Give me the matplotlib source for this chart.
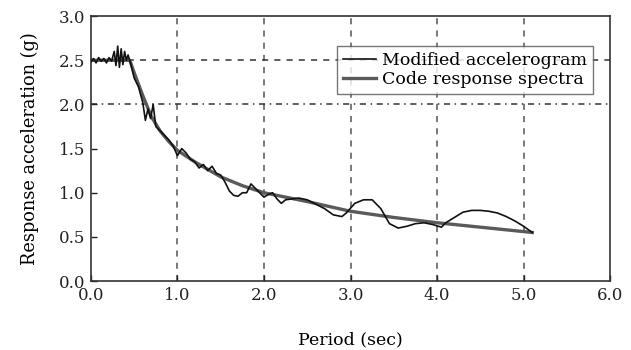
import matplotlib
matplotlib.use("Agg")
import matplotlib.pyplot as plt

# period (sec) / response acceleration (g)
acc_period = [0.0, 0.03, 0.06, 0.09, 0.12, 0.15, 0.18, 0.21, 0.24, 0.27, 0.29, 0.31, 0.33,
              0.35, 0.37, 0.39, 0.41, 0.43, 0.46, 0.5, 0.55, 0.6, 0.63, 0.66, 0.69, 0.72,
              0.75, 0.8, 0.85, 0.9, 0.95, 1.0, 1.05, 1.1, 1.15, 1.2, 1.25, 1.3, 1.35, 1.4,
              1.45, 1.5, 1.55, 1.6, 1.65, 1.7, 1.75, 1.8, 1.85, 1.9, 1.95, 2.0, 2.05, 2.1,
              2.15, 2.2, 2.25, 2.4, 2.5, 2.6, 2.7, 2.8, 2.9, 2.95, 3.05, 3.15, 3.25, 3.35,
              3.45, 3.55, 3.65, 3.75, 3.85, 3.95, 4.05, 4.1, 4.2, 4.3, 4.4, 4.5, 4.6, 4.7,
              4.8, 4.9, 5.0, 5.1]
acc_values = [2.48, 2.52, 2.47, 2.53, 2.49, 2.52, 2.47, 2.53, 2.49, 2.6, 2.44, 2.66, 2.42,
              2.63, 2.45, 2.6, 2.5, 2.56, 2.46, 2.3, 2.2, 2.02, 1.82, 1.95, 1.84, 2.0,
              1.75, 1.7, 1.65, 1.6, 1.53, 1.42, 1.5, 1.45, 1.38, 1.35, 1.28, 1.32, 1.25, 1.3,
              1.22, 1.2, 1.12, 1.02, 0.97, 0.96, 1.0, 1.0, 1.1, 1.05, 1.0, 0.95, 0.98, 1.0,
              0.93, 0.88, 0.92, 0.94, 0.92, 0.87, 0.82, 0.75, 0.73, 0.77, 0.88, 0.92, 0.92, 0.82,
              0.65, 0.6, 0.62, 0.65, 0.66, 0.64, 0.61, 0.66, 0.72, 0.78, 0.8, 0.8, 0.79, 0.77,
              0.73, 0.68, 0.62, 0.55]

code_period = [0.0, 0.2, 0.45, 0.5, 0.6, 0.7, 0.8, 0.9, 1.0, 1.2, 1.5, 1.75, 2.0, 2.5, 3.0,
               3.5, 4.0, 4.5, 5.1]
code_values = [2.5, 2.5, 2.5, 2.36, 2.1, 1.86, 1.7, 1.58, 1.48, 1.35, 1.18, 1.08, 1.0, 0.9,
               0.79, 0.72, 0.66, 0.61, 0.55]

x_ticks = [0, 1, 2, 3, 4, 5, 6]
x_ticklabels = ['0.0', '1.0', '2.0', '3.0', '4.0', '5.0', '6.0']
y_ticks = [0, 0.5, 1.0, 1.5, 2.0, 2.5, 3.0]
y_ticklabels = ['0.0', '0.5', '1.0', '1.5', '2.0', '2.5', '3.0']

plt.rcParams['font.family'] = 'DejaVu Serif'

fig = plt.figure(figsize=(6.31, 3.5), dpi=100)
ax = fig.add_axes([0.144, 0.197, 0.823, 0.757])

for x in [1, 2, 3, 4, 5]:
    ax.axvline(x, color='#555555', ls=(0, (4, 4)), lw=1.1, zorder=1)
ax.axhline(2.5, color='#333333', ls=(0, (4, 4)), lw=1.1, zorder=1)
ax.axhline(2.0, color='#333333', ls=(0, (4, 3, 1, 3)), lw=1.1, zorder=1)

ax.plot(code_period, code_values, color='#5a5a5a', lw=2.4, label='Code response spectra', zorder=2)
ax.plot(acc_period, acc_values, color='#111111', lw=1.2, label='Modified accelerogram', zorder=3)

ax.set_xlim(0, 6)
ax.set_ylim(0, 3)
ax.set_xticks(x_ticks)
ax.set_xticklabels(x_ticklabels)
ax.set_yticks(y_ticks)
ax.set_yticklabels(y_ticklabels)
ax.tick_params(labelsize=12, length=4, width=1, direction='in', colors='#222222', pad=4)
for s in ax.spines.values():
    s.set_color('#333333')
    s.set_linewidth(1.2)

ax.set_xlabel('Period (sec)', fontsize=12.5, labelpad=20)
ax.set_ylabel('Response acceleration (g)', fontsize=12.8, labelpad=14)

handles, labels = ax.get_legend_handles_labels()
leg = ax.legend(handles[::-1], labels[::-1], loc='upper right', bbox_to_anchor=(0.983, 0.92),
                fontsize=12.5, frameon=True, fancybox=False, handlelength=1.9,
                handletextpad=0.3, borderpad=0.35, labelspacing=0.1)
leg.get_frame().set_edgecolor('#555555')
leg.get_frame().set_linewidth(1.0)

fig.savefig('out.png', dpi=100)
